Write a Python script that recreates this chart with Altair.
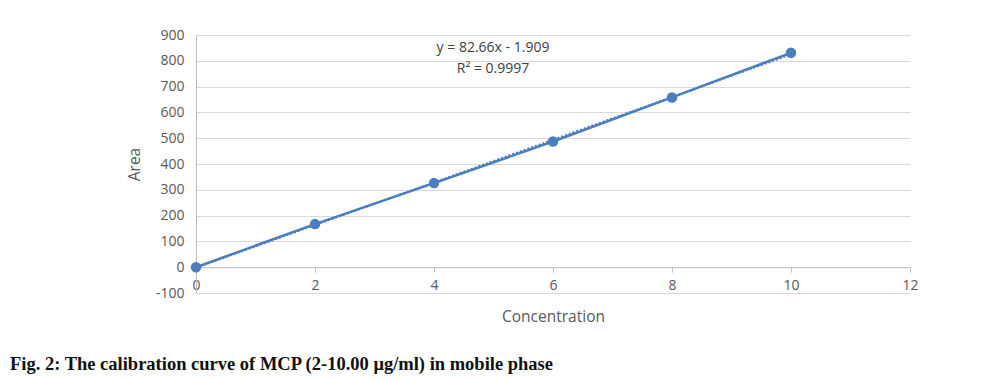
import altair as alt
import pandas as pd

concentration = [0, 2, 4, 6, 8, 10]
area = [0, 167, 326, 487, 658, 831]
equation_lines = ["y = 82.66x - 1.909", "R² = 0.9997"]
caption = "Fig. 2: The calibration curve of MCP (2-10.00 μg/ml) in mobile phase"
x_ticks = [0, 2, 4, 6, 8, 10, 12]
y_ticks = [-100, 0, 100, 200, 300, 400, 500, 600, 700, 800, 900]

BLUE = "#4A7EBF"
df = pd.DataFrame({"conc": concentration, "area": area})

xs = alt.Scale(domain=[0, 12], nice=False, zero=False)
ys = alt.Scale(domain=[-100, 900], nice=False, zero=False)

x_enc = alt.X("conc:Q", scale=xs, title="Concentration",
              axis=alt.Axis(values=x_ticks, format="d", offset=-25.8, domainColor="#BFBFBF",
                            tickColor="#BFBFBF", tickSize=5, grid=False,
                            labelFlush=False, labelOverlap=False,
                            labelPadding=6, titlePadding=17))
y_enc = alt.Y("area:Q", scale=ys, title="Area",
              axis=alt.Axis(values=y_ticks, format="d", domainColor="#BFBFBF", ticks=False,
                            labelExpr="replace(datum.label, '\u2212', '-')",
                            labelFlush=False, labelOverlap=False,
                            gridColor="#D9D9D9", labelPadding=12, titlePadding=13))

base = alt.Chart(df)
line = base.mark_line(color=BLUE, strokeWidth=2.5).encode(x=x_enc, y=y_enc)
pts = base.mark_point(filled=True, color=BLUE, size=110, opacity=1).encode(x=x_enc, y=y_enc)
trend = base.transform_regression("conc", "area", extent=[0, 10]).mark_line(
    color=BLUE, strokeWidth=2, strokeDash=[2, 2]).encode(x=x_enc, y=y_enc)

eq_df = pd.DataFrame({"t": equation_lines, "i": [0, 1]})
eq = alt.Chart(eq_df).mark_text(fontSize=14, font="Open Sans", color="#404040",
                                align="center", baseline="middle").encode(
    text="t:N",
    x=alt.value(297),
    y=alt.YValue(alt.ExprRef(expr="13 + datum.i * 21"))
)

cap_df = pd.DataFrame({"t": [caption]})
cap = alt.Chart(cap_df).mark_text(fontSize=18.5, font="Liberation Serif", fontWeight="bold",
                                  color="#111111", align="left", baseline="alphabetic").encode(
    text="t:N", x=alt.value(-186), y=alt.value(335))

chart = alt.layer(line, trend, pts, eq, cap).properties(
    width=714, height=258,
    autosize=alt.AutoSizeParams(type="none"),
    padding={"left": 188, "top": 27, "right": 87, "bottom": 88},
).configure_view(stroke=None).configure_axis(
    labelFont="Open Sans", labelFontSize=14, labelColor="#595959",
    titleFont="Open Sans", titleFontSize=15.5, titleFontWeight="normal", titleColor="#595959",
)

chart.save("out.html", embed_options={"renderer": "svg", "actions": False})
